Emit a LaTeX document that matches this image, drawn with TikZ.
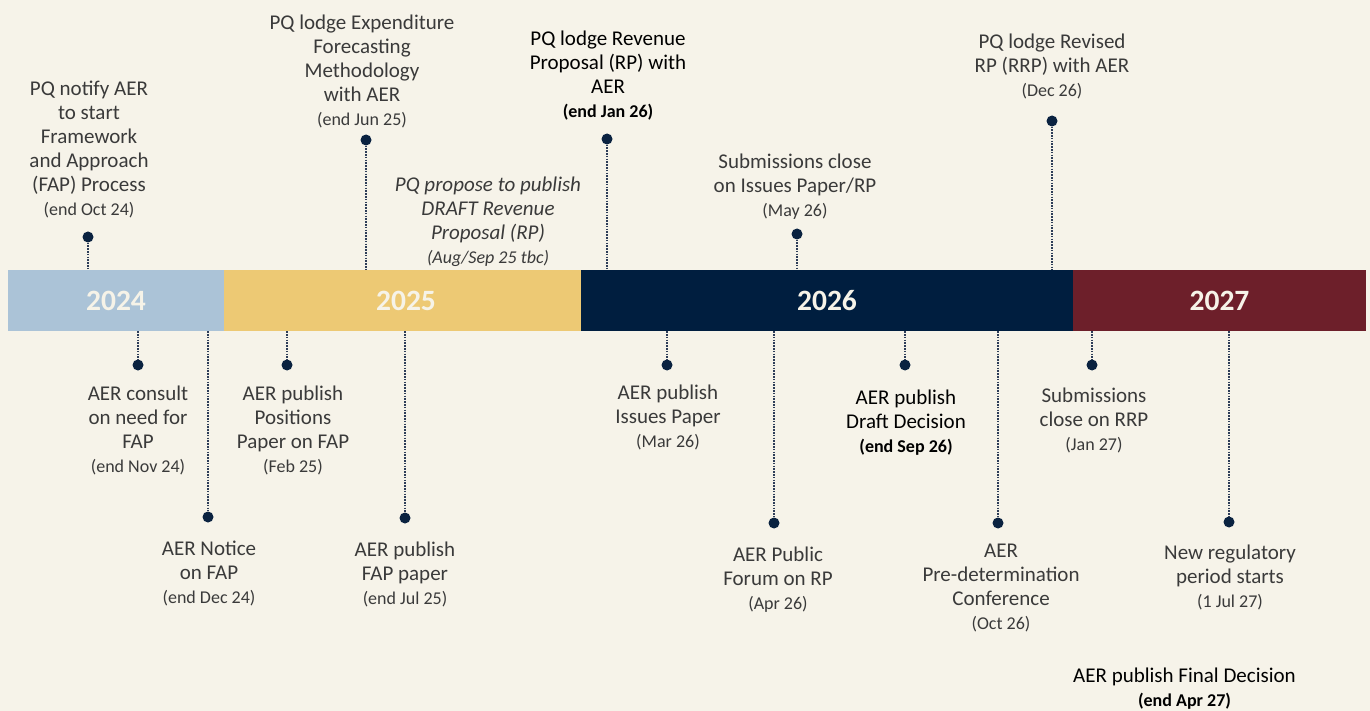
\documentclass[tikz,border=0pt]{standalone}
\usepackage{fontspec}
\setmainfont{Carlito}
\definecolor{bg}{HTML}{F6F3E9}
\definecolor{c24}{HTML}{ABC3D7}
\definecolor{c25}{HTML}{EDC974}
\definecolor{c26}{HTML}{001E3F}
\definecolor{c27}{HTML}{6D1F2A}
\definecolor{cream}{HTML}{F6F3E8}
\definecolor{navy}{HTML}{0A2240}
\definecolor{txtgray}{HTML}{3A3A3A}
\definecolor{linec}{HTML}{2E3D58}
\newcommand\dt[1]{{\fontsize{18}{24}\selectfont #1}}
\newcommand\dtb[1]{{\fontsize{18}{24}\selectfont\bfseries #1}}
\begin{document}
\begin{tikzpicture}[x=1pt,y=-1pt,
  lbl/.style={align=center, font=\fontsize{21}{24}\selectfont, text=txtgray, inner sep=0pt},
  dk/.style={text=black},
  dotnode/.style={circle, fill=navy, minimum size=11pt, inner sep=0pt},
  conn/.style={draw=linec, line width=1.2pt, dash pattern=on 1.6pt off 1.2pt},
  seg/.style={rectangle, inner sep=0pt, minimum height=61pt, font=\fontsize{29.5}{30}\selectfont\bfseries, text=cream},
]
\useasboundingbox[fill=bg] (0,0) rectangle (1370,711);

% timeline segments
\node[seg, fill=c24, minimum width=216pt] (s24) at (116,300.5) {2024};
\node[seg, fill=c25, minimum width=357pt] (s25) at (402.5,300.5) {\hspace*{7pt}2025};
\node[seg, fill=c26, minimum width=492pt] (s26) at (827,300.5) {2026};
\node[seg, fill=c27, minimum width=293pt] (s27) at (1219.5,300.5) {2027};

% dots above
\node[dotnode] (d1) at (88,237) {};
\node[dotnode] (d2) at (366,140) {};
\node[dotnode] (d4) at (607,139) {};
\node[dotnode] (d5) at (797,234) {};
\node[dotnode] (d6) at (1052,121) {};
% dots below
\node[dotnode] (e1) at (138,365) {};
\node[dotnode] (e2) at (208,517) {};
\node[dotnode] (e3) at (287,365) {};
\node[dotnode] (e4) at (405,518) {};
\node[dotnode] (e5) at (667,365) {};
\node[dotnode] (e6) at (774,523) {};
\node[dotnode] (e7) at (905,365) {};
\node[dotnode] (e8) at (998,523) {};
\node[dotnode] (e9) at (1092,365) {};
\node[dotnode] (e10) at (1229,522) {};

% connectors
\draw[conn] (d1) -- (d1 |- s24.north);
\draw[conn] (d2) -- (d2 |- s25.north);
\draw[conn] (d4) -- (d4 |- s26.north);
\draw[conn] (d5) -- (d5 |- s26.north);
\draw[conn] (d6) -- (d6 |- s26.north);
\draw[conn] (e1 |- s24.south) -- (e1);
\draw[conn] (e2 |- s24.south) -- (e2);
\draw[conn] (e3 |- s25.south) -- (e3);
\draw[conn] (e4 |- s25.south) -- (e4);
\draw[conn] (e5 |- s26.south) -- (e5);
\draw[conn] (e6 |- s26.south) -- (e6);
\draw[conn] (e7 |- s26.south) -- (e7);
\draw[conn] (e8 |- s26.south) -- (e8);
\draw[conn] (e9 |- s27.south) -- (e9);
\draw[conn] (e10 |- s27.south) -- (e10);

% labels above
\node[lbl] (t1) at (89,149.5) {PQ notify AER\\to start\\Framework\\and Approach\\(FAP) Process\\\dt{(end Oct 24)}};
\node[lbl] (t2) at (362,71.5) {PQ lodge Expenditure\\Forecasting\\Methodology\\with AER\\\dt{(end Jun 25)}};
\node[lbl, font=\fontsize{21}{24}\selectfont\itshape] (t3) at (488,222) {PQ propose to publish\\DRAFT Revenue\\Proposal (RP)\\\dt{(Aug/Sep 25 tbc)}};
\node[lbl, dk] (t4) at (608,76) {PQ lodge Revenue\\Proposal (RP) with\\AER\\\dtb{(end Jan 26)}};
\node[lbl] (t5) at (795,186.5) {Submissions close\\on Issues Paper/RP\\\dt{(May 26)}};
\node[lbl] (t6) at (1052,66.5) {PQ lodge Revised\\RP (RRP) with AER\\\dt{(Dec 26)}};

% labels below
\node[lbl] (b1) at (138,430.5) {AER consult\\on need for\\FAP\\\dt{(end Nov 24)}};
\node[lbl] (b2) at (209,573) {AER Notice\\on FAP\\\dt{(end Dec 24)}};
\node[lbl] (b3) at (293,430.5) {AER publish\\Positions\\Paper on FAP\\\dt{(Feb 25)}};
\node[lbl] (b4) at (405,574.5) {AER publish\\FAP paper\\\dt{(end Jul 25)}};
\node[lbl] (b5) at (668,417) {AER publish\\Issues Paper\\\dt{(Mar 26)}};
\node[lbl] (b6) at (778,579.5) {AER Public\\Forum on RP\\\dt{(Apr 26)}};
\node[lbl, dk] (b7) at (906,423) {AER publish\\Draft Decision\\\dtb{(end Sep 26)}};
\node[lbl] (b8) at (1001,588.5) {AER\\Pre-determination\\Conference\\\dt{(Oct 26)}};
\node[lbl] (b9) at (1094,420.5) {Submissions\\close on RRP\\\dt{(Jan 27)}};
\node[lbl] (b10) at (1230,577.5) {New regulatory\\period starts\\\dt{(1 Jul 27)}};
\node[lbl, dk] (b11) at (1184.5,689) {AER publish Final Decision\\\dtb{(end Apr 27)}};
\end{tikzpicture}
\end{document}
